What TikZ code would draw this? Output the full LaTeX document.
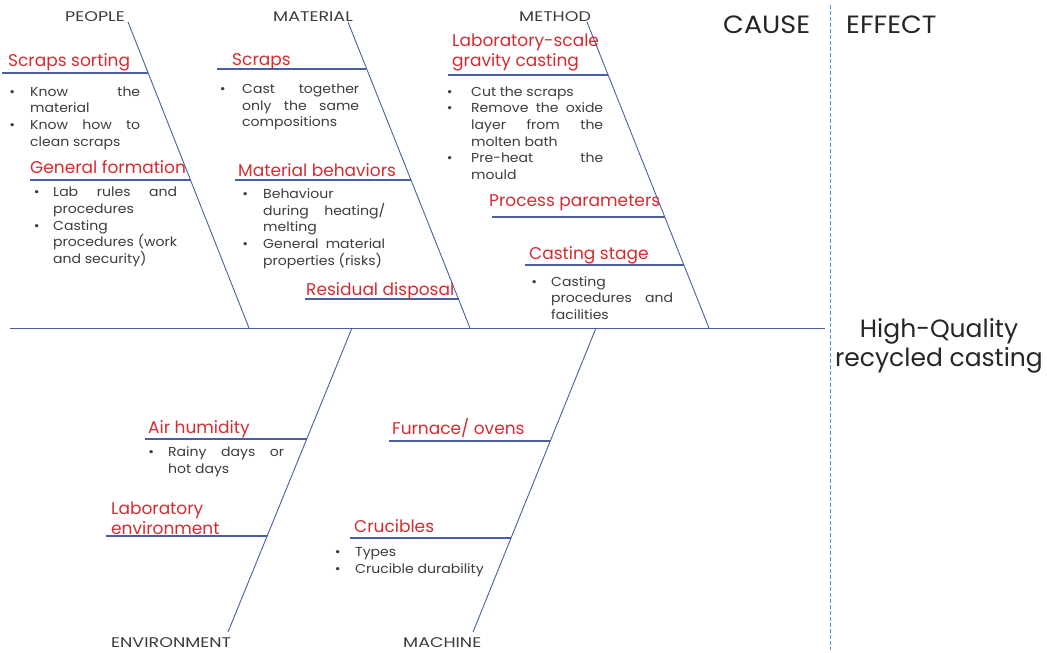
\documentclass[tikz,border=0pt]{standalone}
\usepackage{fontspec}
\setmainfont{Poppins}
\newfontfamily\catfont[FakeStretch=1.25]{Poppins}
\newfontfamily\bulfont[FakeStretch=1.08]{Poppins}
\newfontfamily\bigfont[FakeStretch=1.08]{Poppins}
\definecolor{bonec}{HTML}{4A5FA0}
\definecolor{lblc}{HTML}{D62B30}
\definecolor{txtc}{HTML}{3C3C3C}
\definecolor{dashc}{HTML}{5B9BD5}
\newdimen\bgap
\newcommand\Jl[1]{\hbox to\hsize{#1}}
\newcommand\Ll[1]{\hbox{#1}}
\newcommand\bu{\llap{\textbullet\hskip\bgap}}
\newcommand\blk[3]{\vtop{\hsize=#1\relax\bgap=#2\relax #3}}
\tikzset{
  bone/.style={draw=bonec, line width=0.9pt},
  branch/.style={draw=bonec, line width=1.1pt},
  catlbl/.style={font=\catfont\fontsize{14}{16}\selectfont, text=txtc, inner sep=0pt, anchor=base west},
  redlbl/.style={font=\fontsize{17}{20}\selectfont, text=lblc, inner sep=0pt, anchor=base west},
  bullist/.style={font=\bulfont\fontsize{13}{16.7}\selectfont, text=txtc, inner sep=0pt, anchor=base west},
  bigtxt/.style={font=\fontsize{25}{29}\selectfont, text=black!85, inner sep=0pt},
}
\begin{document}
\begin{tikzpicture}[x=1pt,y=-1pt]
\useasboundingbox (0,0) rectangle (1047,653);
% coordinates of bones
\coordinate (s0) at (10,328);
\coordinate (s1) at (825,328);
\coordinate (pT) at (128,22);  \coordinate (pB) at (249,328);
\coordinate (mT) at (348,22);  \coordinate (mB) at (470,328);
\coordinate (meT) at (587,22); \coordinate (meB) at (709,328);
\coordinate (eT) at (352,328); \coordinate (eB) at (228,632);
\coordinate (maT) at (596,328); \coordinate (maB) at (473,632);
\coordinate (d0) at (830,5); \coordinate (d1) at (830,650);
% spine and bones
\draw[bone] (s0) -- (s1);
\draw[bone] (pT) -- (pB);
\draw[bone] (mT) -- (mB);
\draw[bone] (meT) -- (meB);
\draw[bone] (eT) -- (eB);
\draw[bone] (maT) -- (maB);
\draw[dashc, line width=0.8pt, dash pattern=on 4pt off 2pt] (d0) -- (d1);
% branch coordinates
\coordinate (b1a) at (2,73);    \coordinate (b1b) at (148,73);
\coordinate (b2a) at (30,180);  \coordinate (b2b) at (190,180);
\coordinate (b3a) at (217,69);  \coordinate (b3b) at (366,69);
\coordinate (b4a) at (235,180); \coordinate (b4b) at (411,180);
\coordinate (b5a) at (305,299); \coordinate (b5b) at (459,299);
\coordinate (b6a) at (448,75);  \coordinate (b6b) at (608,75);
\coordinate (b7a) at (492,217); \coordinate (b7b) at (665,217);
\coordinate (b8a) at (525,265); \coordinate (b8b) at (684,265);
\coordinate (b9a) at (145,439); \coordinate (b9b) at (307,439);
\coordinate (b10a) at (106,536); \coordinate (b10b) at (267,536);
\coordinate (b11a) at (389,441); \coordinate (b11b) at (550,441);
\coordinate (b12a) at (350,538); \coordinate (b12b) at (511,538);
\foreach \i in {1,...,12} {\draw[branch] (b\i a) -- (b\i b);}
% category labels
\node[catlbl] (people) at (65,21) {PEOPLE};
\node[catlbl] (material) at (273,21) {MATERIAL};
\node[catlbl] (method) at (519,21) {METHOD};
\node[catlbl] (environment) at (111,647) {ENVIRONMENT};
\node[catlbl] (machine) at (403,647) {MACHINE};
% cause / effect
\node[bigtxt, font=\bigfont\fontsize{25}{29}\selectfont, anchor=base west] (cause) at (723,33) {CAUSE};
\node[bigtxt, font=\bigfont\fontsize{25}{29}\selectfont, anchor=base west] (effect) at (846,33) {EFFECT};
\node[bigtxt, anchor=base] (result) at (939,337) {\vtop{\hsize=230pt\centering High-Quality\par recycled casting\par}};
% red labels
\node[redlbl] (l1) at (8,66.7) {Scraps sorting};
\node[redlbl] (l2) at (30,173.3) {General formation};
\node[redlbl] (l3) at (232,65) {Scraps};
\node[redlbl] (l4) at (238,176) {Material behaviors};
\node[redlbl] (l5) at (306,295) {Residual disposal};
\node[redlbl] (l6) at (452,46.7) {\vtop{\Ll{Laboratory-scale}\Ll{gravity casting}}};
\node[redlbl] (l7) at (489,206.7) {Process parameters};
\node[redlbl] (l8) at (529,259.3) {Casting stage};
\node[redlbl] (l9) at (148,433.3) {Air humidity};
\node[redlbl] (l10) at (111,514.3) {\vtop{\Ll{Laboratory}\Ll{environment}}};
\node[redlbl] (l11) at (392,434.3) {Furnace/ ovens};
\node[redlbl] (l12) at (354,532.3) {Crucibles};
% bullet lists
\node[bullist] (t1) at (30,96) {\blk{110pt}{15pt}{\Jl{\bu Know the}\Ll{material}\Jl{\bu Know how to}\Ll{clean scraps}}};
\node[bullist] (t2) at (53,196.7) {\blk{124pt}{13.5pt}{\Jl{\bu Lab rules and}\Ll{procedures}\Ll{\bu Casting}\Jl{procedures (work}\Ll{and security)}}};
\node[bullist] (t3) at (242,93.3) {\blk{117pt}{16.5pt}{\Jl{\bu Cast together}\Jl{only the same}\Ll{compositions}}};
\node[bullist] (t4) at (263,198.3) {\blk{122pt}{15pt}{\Ll{\bu Behaviour}\Jl{during heating/}\Ll{melting}\Jl{\bu General material}\Ll{properties (risks)}}};
\node[bullist] (t5) at (471,96) {\blk{132pt}{18.5pt}{\Ll{\bu Cut the scraps}\Jl{\bu Remove the oxide}\Jl{layer from the}\Ll{molten bath}\Jl{\bu Pre-heat the}\Ll{mould}}};
\node[bullist] (t6) at (551,286) {\blk{122pt}{14pt}{\Ll{\bu Casting}\Jl{procedures and}\Ll{facilities}}};
\node[bullist] (t7) at (168,456.7) {\blk{116pt}{14pt}{\Jl{\bu Rainy days or}\Ll{hot days}}};
\node[bullist] (t8) at (355,556.7) {\blk{150pt}{14.5pt}{\Ll{\bu Types}\Ll{\bu Crucible durability}}};
\end{tikzpicture}
\end{document}
